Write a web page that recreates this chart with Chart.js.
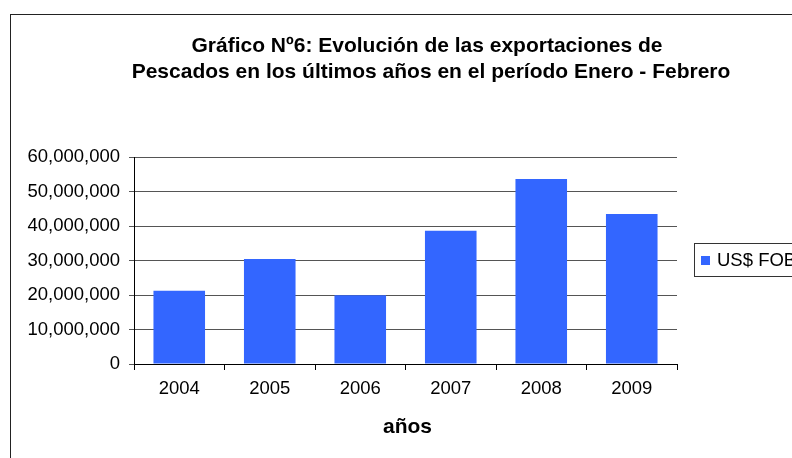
<!DOCTYPE html>
<html>
<head>
<meta charset="utf-8">
<script src="https://cdn.jsdelivr.net/npm/chart.js@4"></script>
<style>
  html, body { margin: 0; padding: 0; background: #fff; overflow: hidden; }
  #wrap { width: 792px; height: 458px; }
</style>
</head>
<body>
<div id="wrap"><canvas id="fobChart" width="792" height="458"></canvas></div>
<script>
const years = ['2004', '2005', '2006', '2007', '2008', '2009'];
const fobValues = [21200000, 30400000, 19900000, 38600000, 53600000, 43500000];
const seriesName = 'US$ FOB';
const titleLines = ['Gráfico Nº6: Evolución de las exportaciones de',
                    'Pescados en los últimos años en el período Enero - Febrero'];
const xTitle = 'años';

const FONT = '"Liberation Sans", Arial, sans-serif';
const BAR_COLOR = '#3366FF';

// frame, title, axis title and legend box drawn on top of the chart
const decorations = {
    id: 'decorations',
    afterDraw(chart) {
        const ctx = chart.ctx;
        const area = chart.chartArea;
        ctx.save();
        ctx.strokeStyle = '#222';
        ctx.lineWidth = 1;
        ctx.strokeRect(10.5, 14.5, 800, 460);

        ctx.fillStyle = '#000';
        ctx.textAlign = 'center';
        ctx.textBaseline = 'middle';
        ctx.font = 'bold 21px ' + FONT;
        ctx.fillText(titleLines[0], 427, 46);
        ctx.fillText(titleLines[1], 431, 72);
        ctx.fillText(xTitle, (area.left + area.right) / 2 + 2, 427);

        // legend
        const ds = chart.data.datasets[0];
        ctx.strokeStyle = '#333';
        ctx.strokeRect(694.5, 243.5, 120, 33);
        ctx.fillStyle = ds.backgroundColor;
        ctx.fillRect(701, 256, 9, 9);
        ctx.fillStyle = '#000';
        ctx.textAlign = 'left';
        ctx.font = '18.5px ' + FONT;
        ctx.fillText(ds.label, 717, 261);
        ctx.restore();
    }
};

new Chart(document.getElementById('fobChart').getContext('2d'), {
    type: 'bar',
    data: {
        labels: years,
        datasets: [{
            label: seriesName,
            data: fobValues,
            backgroundColor: BAR_COLOR,
            borderWidth: 0,
            barPercentage: 0.57,
            categoryPercentage: 1
        }]
    },
    options: {
        responsive: false,
        animation: false,
        devicePixelRatio: 1,
        layout: { padding: { top: 157, right: 115, left: 0, bottom: 0 } },
        plugins: {
            legend: { display: false },
            title: { display: false },
            tooltip: { enabled: false }
        },
        scales: {
            x: {
                afterFit(scale) { scale.height = 94; },
                grid: {
                    offset: true,
                    drawOnChartArea: false,
                    color: '#000',
                    tickLength: 6
                },
                border: { color: '#000' },
                ticks: {
                    color: '#000',
                    padding: 8,
                    font: { family: FONT, size: 18.5 }
                }
            },
            y: {
                min: 0,
                max: 60000000,
                afterFit(scale) { scale.width = 134; },
                grid: {
                    color: '#555',
                    tickLength: 5
                },
                border: { color: '#000' },
                ticks: {
                    stepSize: 10000000,
                    color: '#000',
                    padding: 9,
                    font: { family: FONT, size: 18.5 },
                    callback: v => v.toLocaleString('en-US')
                }
            }
        }
    },
    plugins: [decorations]
});
</script>
</body>
</html>
